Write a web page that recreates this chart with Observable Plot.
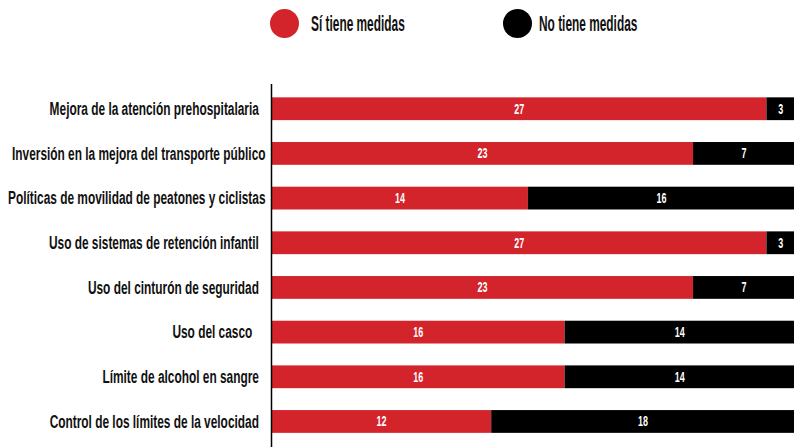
<!DOCTYPE html>
<html><head><meta charset="utf-8">
<script src="https://cdn.jsdelivr.net/npm/d3@7"></script>
<script src="https://cdn.jsdelivr.net/npm/@observablehq/plot@0.6"></script>
<style>
html,body{margin:0;padding:0;background:#fff;overflow:hidden;width:794px;height:447px}
#legend{position:relative;height:56px;font-family:"Liberation Sans",Arial,sans-serif;font-weight:bold;font-size:22px;color:#111}
.sw{position:absolute;top:9px;width:29px;height:29px;border-radius:50%}
.lab{position:absolute;top:9px;height:29px;line-height:29px;display:inline-block;transform:scaleX(0.54);transform-origin:left center;white-space:nowrap}
</style></head><body>
<div id="legend"></div><div id="chart"></div>
<script>
const categories = [
  "Mejora de la atención prehospitalaria",
  "Inversión en la mejora del transporte público",
  "Políticas de movilidad de peatones y ciclistas",
  "Uso de sistemas de retención infantil",
  "Uso del cinturón de seguridad",
  "Uso del casco",
  "Límite de alcohol en sangre",
  "Control de los límites de la velocidad"
];
const yLabels = [
  "Mejora de la atención prehospitalaria\u00a0\u00a0",
  "Inversión en la mejora del transporte público",
  "Políticas de movilidad de peatones y ciclistas",
  "Uso de sistemas de retención infantil\u00a0\u00a0",
  "Uso del cinturón de seguridad\u00a0\u00a0",
  "Uso del casco\u00a0\u00a0\u00a0\u00a0",
  "Límite de alcohol en sangre\u00a0\u00a0",
  "Control de los límites de la velocidad\u00a0\u00a0"
];
const siValues = [27, 23, 14, 27, 23, 16, 16, 12];
const noValues = [3, 7, 16, 3, 7, 14, 14, 18];
const seriesNames = ["Sí tiene medidas", "No tiene medidas"];
const colors = ["#d3232b", "#000000"];

// legend
const legend = document.getElementById("legend");
const swatchLeft = [270, 503];
const labelLeft = [311, 539];
seriesNames.forEach((s, i) => {
  const sw = document.createElement("span");
  sw.className = "sw";
  sw.style.left = swatchLeft[i] + "px";
  sw.style.background = colors[i];
  legend.appendChild(sw);
  const lb = document.createElement("span");
  lb.className = "lab";
  lb.style.left = labelLeft[i] + "px";
  lb.textContent = s;
  legend.appendChild(lb);
});

const rows = [];
categories.forEach((c, i) => {
  rows.push({cat: c, serie: seriesNames[0], value: siValues[i], start: 0, end: siValues[i]});
  rows.push({cat: c, serie: seriesNames[1], value: noValues[i], start: siValues[i], end: siValues[i] + noValues[i]});
});
const pxPerUnit = 18.35;
const axisX = 271;
const visibleMax = (794 - axisX) / pxPerUnit;

const chart = Plot.plot({
  width: 794,
  height: 391,
  marginLeft: axisX,
  marginRight: 0,
  marginTop: 28,
  marginBottom: 0,
  style: {fontFamily: "'Liberation Sans', Arial, sans-serif", fontWeight: "bold", fontSize: "18px", color: "#111", background: "#fff"},
  x: {domain: [0, 30], range: [axisX, axisX + 30 * pxPerUnit], axis: null},
  y: {domain: categories, range: [30.4, 387.8], paddingInner: 0.49, paddingOuter: 0.245, round: false, axis: null},
  color: {domain: seriesNames, range: colors},
  marks: [
    Plot.barX(rows, {y: "cat", x1: "start", x2: "end", fill: "serie"}),
    Plot.text(rows, {
      y: "cat",
      x: d => (d.start + Math.min(d.end, visibleMax)) / 2,
      text: d => String(d.value),
      fill: "white",
      fontSize: 14,
      fontWeight: "bold"
    }),
    Plot.axisY({anchor: "left", tickSize: 0, tickPadding: 6, fontSize: 18, fontWeight: "bold", label: null,
      tickFormat: d => yLabels[categories.indexOf(d)]}),
    Plot.ruleX([0], {stroke: "#000", strokeWidth: 1.5})
  ]
});
document.getElementById("chart").appendChild(chart);

// condense glyphs horizontally (narrow display face look)
chart.querySelectorAll("text").forEach(t => {
  const isValue = t.getAttribute("fill") === "white" || (t.parentNode && t.parentNode.getAttribute("fill") === "white");
  const f = isValue ? 0.64 : 0.66;
  const w = t.getComputedTextLength();
  if (w > 0) {
    t.setAttribute("textLength", (w * f).toFixed(2));
    t.setAttribute("lengthAdjust", "spacingAndGlyphs");
  }
});
</script>
</body></html>
